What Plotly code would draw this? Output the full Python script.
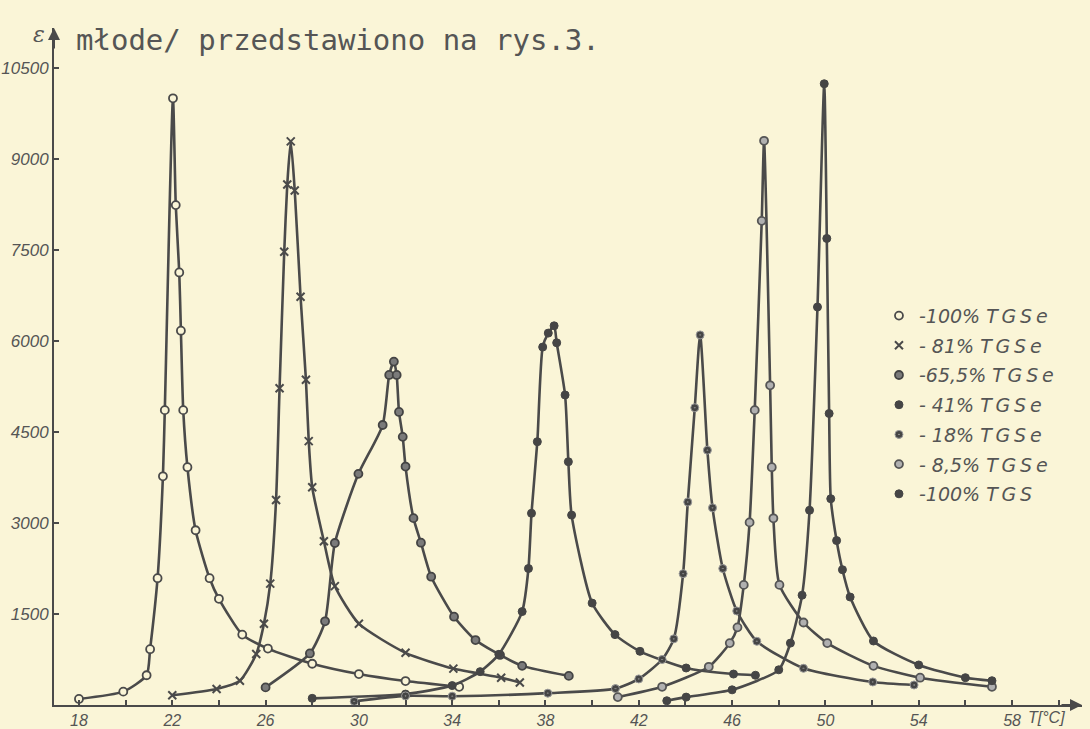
import plotly.graph_objects as go

# ---------------- data ----------------
T_100SE = [18.0, 19.9, 20.9, 21.05, 21.37, 21.6, 21.68, 22.03, 22.15, 22.3, 22.37, 22.47, 22.65, 23.0, 23.6, 24.0, 25.0, 26.1, 28.0, 30.0, 32.0, 34.3]
E_100SE = [100, 220, 490, 920, 2090, 3770, 4860, 10000, 8240, 7130, 6170, 4860, 3920, 2880, 2090, 1750, 1160, 930, 680, 510, 395, 300]

T_81SE = [22.0, 23.9, 24.9, 25.6, 25.93, 26.2, 26.45, 26.6, 26.8, 26.93, 27.08, 27.25, 27.5, 27.73, 27.85, 28.0, 28.5, 28.97, 30.0, 32.0, 34.05, 36.1, 36.9]
E_81SE = [160, 265, 400, 840, 1340, 2000, 3380, 5220, 7470, 8580, 9290, 8480, 6730, 5360, 4350, 3590, 2700, 1960, 1340, 860, 600, 450, 370]

T_655SE = [26.0, 27.9, 28.55, 28.97, 29.98, 31.02, 31.3, 31.5, 31.62, 31.72, 31.88, 32.0, 32.34, 32.66, 33.1, 34.08, 35.0, 36.05, 37.0, 39.0]
E_655SE = [290, 850, 1380, 2670, 3810, 4615, 5440, 5660, 5440, 4830, 4420, 3930, 3080, 2675, 2115, 1456, 1070, 825, 645, 480]

T_41SE = [28.0, 32.0, 34.0, 35.2, 36.0, 37.0, 37.27, 37.4, 37.65, 37.88, 38.12, 38.37, 38.48, 38.84, 38.98, 39.12, 40.0, 40.98, 42.05, 44.03, 46.06, 47.0]
E_41SE = [110, 180, 320, 550, 835, 1540, 2250, 3160, 4340, 5900, 6130, 6250, 5970, 5110, 4010, 3130, 1680, 1160, 885, 610, 510, 490]

T_18SE = [29.8, 32.0, 34.0, 38.1, 41.0, 42.0, 43.0, 43.5, 43.9, 44.1, 44.4, 44.63, 44.94, 45.16, 45.6, 46.2, 47.06, 49.06, 52.03, 53.8]
E_18SE = [60, 150, 145, 195, 270, 430, 750, 1090, 2165, 3345, 4900, 6100, 4200, 3250, 2250, 1550, 1050, 605, 380, 330]

T_85SE = [41.1, 43.0, 45.0, 45.9, 46.23, 46.5, 46.75, 46.97, 47.27, 47.37, 47.63, 47.7, 47.77, 48.03, 49.06, 50.08, 52.06, 54.06, 57.14]
E_85SE = [130, 300, 630, 1020, 1280, 1980, 3010, 4860, 7980, 9300, 5270, 3920, 3077, 1980, 1360, 1020, 645, 450, 300]

T_100S = [43.2, 44.03, 46.0, 48.0, 48.5, 49.0, 49.32, 49.66, 49.95, 50.06, 50.16, 50.23, 50.48, 50.73, 51.06, 52.06, 54.0, 56.0, 57.14]
E_100S = [70, 130, 250, 580, 1020, 1810, 3210, 6560, 10240, 7690, 4805, 3400, 2710, 2230, 1780, 1055, 660, 450, 400]

LABELS = ["-100% T\u2009G\u2009S\u2009e", "- 81% T\u2009G\u2009S\u2009e", "-65,5% T\u2009G\u2009S\u2009e",
          "- 41% T\u2009G\u2009S\u2009e", "- 18% T\u2009G\u2009S\u2009e", "- 8,5% T\u2009G\u2009S\u2009e",
          "-100% T\u2009G\u2009S"]

X_TICKS = [18, 22, 26, 30, 34, 38, 42, 46, 50, 54, 58]
Y_TICKS = [1500, 3000, 4500, 6000, 7500, 9000, 10500]

# ---------------- styling ----------------
BG = "#FAF5D7"
INK = "#4a4a4a"
TXT = "#555555"

series = [
    (T_100SE, E_100SE, dict(symbol="circle", color=BG, size=8, line=dict(color=INK, width=1.8))),
    (T_81SE, E_81SE, dict(symbol="x-thin", color=INK, size=8, line=dict(color=INK, width=2))),
    (T_655SE, E_655SE, dict(symbol="circle", color="#7a7a7a", size=8, line=dict(color="#444444", width=1.8))),
    (T_41SE, E_41SE, dict(symbol="circle", color="#454545", size=8, line=dict(color="#454545", width=1))),
    (T_18SE, E_18SE, dict(symbol="circle-dot", color="#454545", size=8, line=dict(color="#9a9a9a", width=1))),
    (T_85SE, E_85SE, dict(symbol="circle", color="#b0b0b0", size=8, line=dict(color="#555555", width=1.8))),
    (T_100S, E_100S, dict(symbol="circle", color="#454545", size=8, line=dict(color="#454545", width=1))),
]

fig = go.Figure()
for (tx, ey, mk), lab in zip(series, LABELS):
    fig.add_trace(go.Scatter(
        x=tx, y=ey, mode="lines+markers",
        line=dict(color=INK, width=2.6, shape="spline", smoothing=0.6),
        marker=mk, showlegend=False, hoverinfo="skip", cliponaxis=False,
    ))
for (tx, ey, mk), lab in zip(series, LABELS):
    fig.add_trace(go.Scatter(
        x=[None], y=[None], mode="markers", marker=mk, name=lab,
        legendgroup=lab, showlegend=True,
    ))

fig.update_layout(
    width=1090, height=729,
    margin=dict(l=54, r=8, t=28, b=24, autoexpand=False),
    paper_bgcolor=BG, plot_bgcolor=BG,
    font=dict(family="Liberation Sans", color=TXT),
    legend=dict(
        x=0.8025, y=0.603, xanchor="left", yanchor="top",
        bgcolor="rgba(0,0,0,0)",
        font=dict(family="DejaVu Sans", size=19, color=TXT, style="italic"),
        tracegroupgap=2, itemwidth=30,
    ),
)

fig.update_xaxes(
    range=[16.93, 61.0], tickvals=X_TICKS, ticktext=[str(v) for v in X_TICKS],
    automargin=False,
    showgrid=False, zeroline=False, showline=True, linecolor=INK, linewidth=2,
    ticks="inside", ticklen=5, tickwidth=1.5, tickcolor=INK,
    minor=dict(dtick=2, tick0=18, ticks="inside", ticklen=5, tickwidth=1.5, tickcolor=INK, showgrid=False),
    tickfont=dict(size=16, style="italic", color=TXT),
)
fig.update_yaxes(
    range=[0, 11159], tickvals=Y_TICKS, ticktext=[str(v) for v in Y_TICKS],
    automargin=False,
    showgrid=False, zeroline=False, showline=True, linecolor=INK, linewidth=2,
    ticks="inside", ticklen=5, tickwidth=1.5, tickcolor=INK,
    tickfont=dict(size=17, style="italic", color=TXT),
)

# axis arrows
fig.add_annotation(xref="paper", yref="paper", x=0, y=1.0, ax=0, ay=22, showarrow=True,
                   arrowhead=2, arrowsize=1.2, arrowwidth=2, arrowcolor=INK, text="")
fig.add_annotation(xref="paper", yref="paper", x=1.0, y=0, ax=-22, ay=0, showarrow=True,
                   arrowhead=2, arrowsize=1.2, arrowwidth=2, arrowcolor=INK, text="")

# texts
fig.add_annotation(xref="paper", yref="paper", x=-0.022, y=0.99, yanchor="middle", text="ε",
                   showarrow=False,
                   font=dict(size=22, style="italic", color=TXT, family="DejaVu Serif"))
fig.add_annotation(xref="paper", yref="paper", x=0.019, y=0.982, xanchor="left", yanchor="middle",
                   text="młode/ przedstawiono na rys.3.", showarrow=False,
                   font=dict(size=29, color=TXT, family="DejaVu Sans Mono"))
fig.add_annotation(xref="paper", yref="paper", x=0.946, y=-0.018, xanchor="left", yanchor="middle",
                   text="T[°C]", showarrow=False,
                   font=dict(size=16, style="italic", color=TXT))

fig.write_html("out.html")
